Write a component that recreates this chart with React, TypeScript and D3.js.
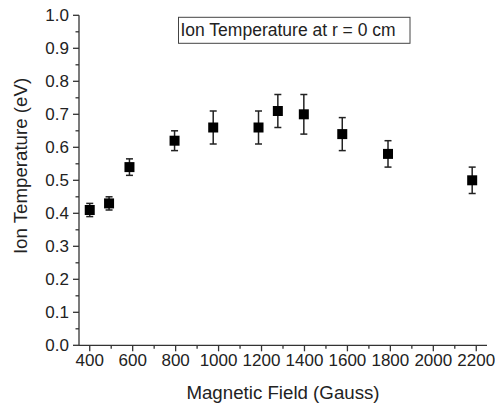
import React from "react";
import * as d3 from "d3";

const fieldGauss = [400, 490, 585, 795, 975, 1186, 1276, 1397, 1576, 1789, 2181];
const ionTemp = [0.41, 0.43, 0.54, 0.62, 0.66, 0.66, 0.71, 0.70, 0.64, 0.58, 0.50];
const ionTempErr = [0.02, 0.02, 0.025, 0.03, 0.05, 0.05, 0.05, 0.06, 0.05, 0.04, 0.04];
const xMajorTicks = [400, 600, 800, 1000, 1200, 1400, 1600, 1800, 2000, 2200];
const xMinorTicks = [500, 700, 900, 1100, 1300, 1500, 1700, 1900, 2100];
const yMajorTicks = [0, 0.1, 0.2, 0.3, 0.4, 0.5, 0.6, 0.7, 0.8, 0.9, 1.0];
const yMinorTicks = [0.05, 0.15, 0.25, 0.35, 0.45, 0.55, 0.65, 0.75, 0.85, 0.95];
const legendLabel = "Ion Temperature at r = 0 cm";
const xTitle = "Magnetic Field (Gauss)";
const yTitle = "Ion Temperature (eV)";

export default function App() {
  const W = 495, H = 407;
  const left = 79, right = 487, top = 15.3, bottom = 345.3;
  const x = d3.scaleLinear().domain([350, 2250]).range([left, right]);
  const y = d3.scaleLinear().domain([0, 1]).range([bottom, top]);
  const font = "'Liberation Sans', Arial, sans-serif";
  const axisColor = "#333";
  const ms = 10;
  const cap = 3.5;
  return (
    <svg width={W} height={H} style={{ position: "absolute", left: 0, top: 0, background: "#fff" }} fontFamily={font}>
      <rect x={0} y={0} width={W} height={H} fill="#fff" />
      {/* axes */}
      <line x1={left} x2={left} y1={top} y2={bottom} stroke={axisColor} strokeWidth={1.3} />
      <line x1={left} x2={right} y1={bottom} y2={bottom} stroke={axisColor} strokeWidth={1.3} />
      {yMajorTicks.map((t) => (
        <g key={"ym" + t}>
          <line x1={left - 6} x2={left} y1={y(t)} y2={y(t)} stroke={axisColor} strokeWidth={1.3} />
          <text x={left - 10} y={y(t)} dy="0.36em" textAnchor="end" fontSize={17} fill="#222">
            {d3.format(".1f")(t)}
          </text>
        </g>
      ))}
      {yMinorTicks.map((t) => (
        <line key={"yn" + t} x1={left - 3.5} x2={left} y1={y(t)} y2={y(t)} stroke={axisColor} strokeWidth={1.3} />
      ))}
      {xMajorTicks.map((t) => (
        <g key={"xm" + t}>
          <line x1={x(t)} x2={x(t)} y1={bottom} y2={bottom + 6} stroke={axisColor} strokeWidth={1.3} />
          <text x={x(t)} y={bottom + 21} textAnchor="middle" fontSize={17} fill="#222">
            {t}
          </text>
        </g>
      ))}
      {xMinorTicks.map((t) => (
        <line key={"xn" + t} x1={x(t)} x2={x(t)} y1={bottom} y2={bottom + 3.5} stroke={axisColor} strokeWidth={1.3} />
      ))}
      {/* titles */}
      <text x={283} y={399} textAnchor="middle" fontSize={18.7} fill="#222">{xTitle}</text>
      <text transform={`translate(27,166) rotate(-90)`} textAnchor="middle" fontSize={18.7} fill="#222">{yTitle}</text>
      {/* legend */}
      <rect x={178.5} y={17.3} width={231.5} height={26} fill="#fff" stroke="#444" strokeWidth={1} />
      <text x={180.5} y={36} fontSize={17.5} fill="#222">{legendLabel}</text>
      {/* error bars and markers */}
      {fieldGauss.map((g, i) => {
        const cx = x(g);
        const v = ionTemp[i];
        const e = ionTempErr[i];
        return (
          <g key={"p" + i}>
            <line x1={cx} x2={cx} y1={y(v + e)} y2={y(v - e)} stroke="#222" strokeWidth={1.5} />
            <line x1={cx - cap} x2={cx + cap} y1={y(v + e)} y2={y(v + e)} stroke="#222" strokeWidth={1.5} />
            <line x1={cx - cap} x2={cx + cap} y1={y(v - e)} y2={y(v - e)} stroke="#222" strokeWidth={1.5} />
            <rect x={cx - ms / 2} y={y(v) - ms / 2} width={ms} height={ms} fill="#000" />
          </g>
        );
      })}
    </svg>
  );
}
